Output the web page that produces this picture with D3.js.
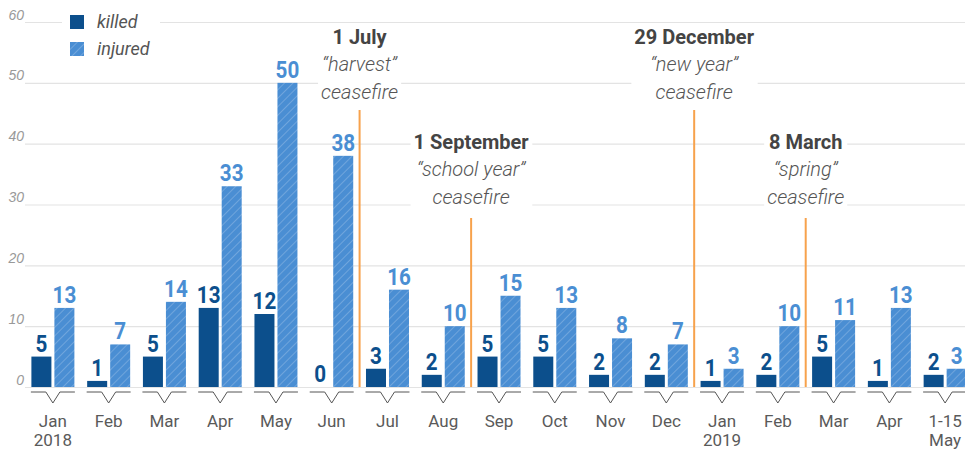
<!DOCTYPE html>
<html>
<head>
<meta charset="utf-8">
<script src="https://cdn.jsdelivr.net/npm/d3@7"></script>
<style>
  body { margin: 0; background: #fff; }
  svg { font-family: Roboto, "Noto Sans", sans-serif; display: block; }
</style>
</head>
<body>
<div id="chart"></div>
<script>
// months, second line of the tick label
const months = ["Jan", "Feb", "Mar", "Apr", "May", "Jun", "Jul", "Aug", "Sep", "Oct", "Nov", "Dec", "Jan", "Feb", "Mar", "Apr", "1-15"];
const subLabels = ["2018", "", "", "", "", "", "", "", "", "", "", "", "2019", "", "", "", "May"];
const killed = [5, 1, 5, 13, 12, 0, 3, 2, 5, 5, 2, 2, 1, 2, 5, 1, 2];
const injured = [13, 7, 14, 33, 50, 38, 16, 10, 15, 13, 8, 7, 3, 10, 11, 13, 3];
const yTicks = [0, 10, 20, 30, 40, 50, 60];

// ceasefires: the line sits before this month index
const ceasefireDate = ["1 July", "1 September", "29 December", "8 March"];
const ceasefireName = ["\u201Charvest\u201D", "\u201Cschool year\u201D", "\u201Cnew year\u201D", "\u201Cspring\u201D"];
const ceasefireIndex = [6, 8, 12, 14];
const ceasefireTier = [0, 1, 0, 1];

const w = 965, h = 454;
const colKilled = "#0c4f8c", colInjured = "#4a8ed3";

const data = months.map((m, i) => ({ i: i, m: m, sub: subLabels[i], killed: killed[i], injured: injured[i] }));

const svg = d3.select("#chart").append("svg")
    .attr("width", w)
    .attr("height", h);

// hatch for injured bars
const defs = svg.append("defs");
const pat = defs.append("pattern")
    .attr("id", "hatch")
    .attr("patternUnits", "userSpaceOnUse")
    .attr("width", 6)
    .attr("height", 6)
    .attr("patternTransform", "rotate(45)");
pat.append("rect").attr("width", 6).attr("height", 6).attr("fill", colInjured);
pat.append("line")
    .attr("x1", 0).attr("y1", 0).attr("x2", 0).attr("y2", 6)
    .attr("stroke", "#fff").attr("stroke-opacity", 0.35).attr("stroke-width", 1.2);

const x = d3.scaleBand()
    .domain(data.map(d => d.i))
    .range([25, 973])
    .padding(0);

const x1 = d3.scaleBand()
    .domain(["killed", "injured"])
    .range([6.4, 49.4])
    .paddingInner(0.13);

const y = d3.scaleLinear()
    .domain([0, 60])
    .range([387, 22]);

// grid
const yAxis = d3.axisLeft(y)
    .tickValues(yTicks)
    .tickSize(-(w - 25))
    .tickFormat(d => d);

const gy = svg.append("g")
    .attr("transform", "translate(25,0)")
    .call(yAxis);
gy.select(".domain").remove();
gy.selectAll(".tick line").attr("stroke", "#e3e3e3").attr("stroke-width", 1.2);
gy.selectAll(".tick text")
    .attr("x", -1)
    .attr("dy", -3)
    .attr("y", 0)
    .attr("dominant-baseline", "auto")
    .attr("font-size", 14)
    .attr("font-style", "italic")
    .attr("fill", "#999");

// groups
const groups = svg.selectAll(".grp")
    .data(data)
    .enter()
    .append("g")
    .attr("class", "grp")
    .attr("transform", d => "translate(" + x(d.i) + ",0)");

groups.append("rect")
    .attr("x", x1("killed"))
    .attr("width", x1.bandwidth())
    .attr("y", d => y(d.killed))
    .attr("height", d => y(0) - y(d.killed))
    .attr("fill", colKilled);

groups.append("rect")
    .attr("x", x1("injured"))
    .attr("width", x1.bandwidth())
    .attr("y", d => y(d.injured))
    .attr("height", d => y(0) - y(d.injured))
    .attr("fill", "url(#hatch)");

// value labels, squeezed a bit to look condensed
groups.append("text")
    .attr("transform", d => "translate(" + (x1("killed") + x1.bandwidth() / 2) + "," + (y(d.killed) - 5) + ") scale(0.86,1)")
    .attr("text-anchor", "middle")
    .attr("font-size", 24)
    .attr("font-weight", "bold")
    .attr("fill", colKilled)
    .text(d => d.killed);

groups.append("text")
    .attr("transform", d => "translate(" + (x1("injured") + x1.bandwidth() / 2) + "," + (y(d.injured) - 5) + ") scale(0.86,1)")
    .attr("text-anchor", "middle")
    .attr("font-size", 24)
    .attr("font-weight", "bold")
    .attr("fill", colInjured)
    .text(d => d.injured);

// chevron ticks under axis
const cx = x.bandwidth() / 2;
groups.append("path")
    .attr("d", "M" + (cx - 22) + ",392H" + (cx - 7) + "L" + cx + ",403L" + (cx + 7) + ",392H" + (cx + 22))
    .attr("fill", "none")
    .attr("stroke", "#555")
    .attr("stroke-width", 1);

const lbl = groups.append("text")
    .attr("text-anchor", "middle")
    .attr("font-size", 17)
    .attr("fill", "#5a5a5a");
lbl.append("tspan").attr("x", cx).attr("y", 427).text(d => d.m);
lbl.append("tspan").attr("x", cx).attr("y", 446).text(d => d.sub);

// ceasefire annotations
const tierTop = [110, 218];
const tierText = [44, 149];
ceasefireIndex.forEach((idx, k) => {
    const lx = x(idx);
    const t = ceasefireTier[k];
    const g = svg.append("g");
    const bg = g.append("rect").attr("fill", "#fff");
    const tx = g.append("text").attr("text-anchor", "middle");
    tx.append("tspan")
        .attr("x", lx).attr("y", tierText[t])
        .attr("font-size", 20).attr("font-weight", "bold").attr("fill", "#444")
        .text(ceasefireDate[k]);
    tx.append("tspan")
        .attr("x", lx).attr("y", tierText[t] + 27)
        .attr("font-size", 20).attr("font-style", "italic").attr("font-weight", 300).attr("fill", "#555")
        .text(ceasefireName[k]);
    tx.append("tspan")
        .attr("x", lx).attr("y", tierText[t] + 55)
        .attr("font-size", 20).attr("font-style", "italic").attr("font-weight", 300).attr("fill", "#555")
        .text("ceasefire");
    const bb = tx.node().getBBox();
    bg.attr("x", bb.x - 3).attr("y", bb.y).attr("width", bb.width + 6).attr("height", bb.height);
    svg.append("line")
        .attr("x1", lx).attr("x2", lx)
        .attr("y1", tierTop[t]).attr("y2", y(0))
        .attr("stroke", "#f7a24c")
        .attr("stroke-width", 2);
});

// legend
const legend = svg.append("g");
legend.append("rect").attr("x", 62).attr("y", 6).attr("width", 98).attr("height", 56).attr("fill", "#fff");
legend.append("rect").attr("x", 70).attr("y", 15).attr("width", 14).attr("height", 14).attr("fill", colKilled);
legend.append("rect").attr("x", 70).attr("y", 42).attr("width", 14).attr("height", 14).attr("fill", "url(#hatch)");
legend.append("text").attr("x", 97).attr("y", 28)
    .attr("font-size", 18).attr("font-style", "italic").attr("fill", "#555").text("killed");
legend.append("text").attr("x", 97).attr("y", 55)
    .attr("font-size", 18).attr("font-style", "italic").attr("fill", "#555").text("injured");
</script>
</body>
</html>
